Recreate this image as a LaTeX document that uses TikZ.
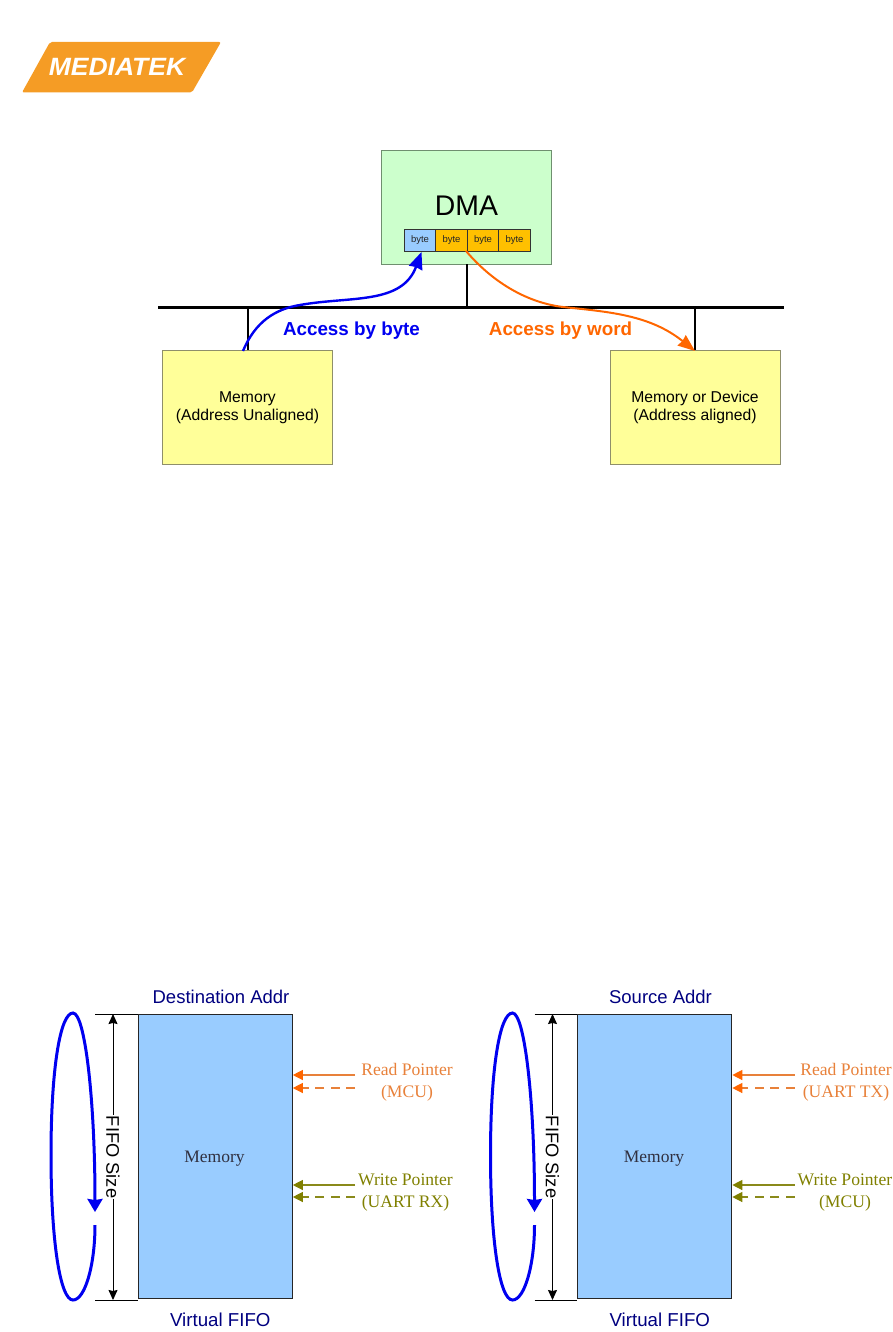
\documentclass[tikz,border=0pt]{standalone}
\usepackage{fontspec}
\setmainfont{Liberation Sans}
\newfontfamily\serifface{Liberation Serif}
\usetikzlibrary{arrows.meta,calc}
\definecolor{dmagreen}{HTML}{CCFFCC}
\definecolor{dmaedge}{HTML}{6F8F6F}
\definecolor{memyellow}{HTML}{FFFF99}
\definecolor{memedge}{HTML}{8F8F6A}
\definecolor{cellblue}{HTML}{99CCFF}
\definecolor{cellgold}{HTML}{FFC000}
\definecolor{accessblue}{HTML}{0000F0}
\definecolor{accessorange}{HTML}{FF6600}
\definecolor{logoorange}{HTML}{F59C25}
\definecolor{navylabel}{HTML}{000080}
\definecolor{readlabel}{HTML}{E8813A}
\definecolor{writelabel}{HTML}{808000}
\definecolor{writeline}{HTML}{8A8A1A}
\definecolor{memtext}{HTML}{303040}
\tikzset{
  plainbox/.style={draw=#1,line width=0.9pt,inner sep=0pt,align=center},
  cellbox/.style={draw=black!80,line width=1pt,inner sep=0pt,minimum width=31.5pt,minimum height=22pt,font=\fontsize{9.5}{11}\selectfont,text=black!85},
  buswire/.style={line width=2pt,draw=black},
  curvewire/.style={line width=2pt},
  sans/.style={font=\fontsize{#1}{#1}\selectfont},
  serifl/.style={font=\serifface\fontsize{17.6}{22}\selectfont,align=center,inner sep=0pt},
  ptr/.style={line width=1.2pt},
  ptrdash/.style={ptr,dash pattern=on 9pt off 6.5pt},
}
\newcommand{\fifopanel}[7]{%
  \begin{scope}[xshift=#2]
    \node[draw=black!85,line width=1pt,fill=cellblue,minimum width=154pt,minimum height=284.5pt,inner sep=0pt] (#1mem) at (215.3,1156.5) {};
    \node[inner sep=0pt,text=memtext,font=\serifface\fontsize{17.5}{20}\selectfont] (#1memtext) at (214.5,1158.5) {Memory};
    \coordinate (#1topL) at (95,1014);
    \coordinate (#1botL) at (95,1300);
    \coordinate (#1dimT) at (113,1014);
    \coordinate (#1dimB) at (113,1300);
    \draw[line width=1pt] (#1topL) -- (#1topL -| #1mem.west);
    \draw[line width=1pt] (#1botL) -- (#1botL -| #1mem.west);
    \draw[line width=1pt,{Stealth[length=10pt,width=9pt,inset=1pt]}-{Stealth[length=10pt,width=9pt,inset=1pt]}] (#1dimT) -- (#1dimB);
    \node[fill=white,rotate=-90,inner sep=1pt,sans=18.3] (#1size) at (113,1157) {FIFO Size};
    \coordinate (#1loopS) at (95,1225);
    \coordinate (#1loopE) at (95,1212);
    \draw[accessblue,line width=3pt,-{Stealth[length=13pt,width=15pt,inset=1pt]}] (#1loopS)
      .. controls (95,1265) and (85,1300) .. (73,1300)
      .. controls (60,1300) and (51,1240) .. (51,1155)
      .. controls (51,1070) and (60,1013) .. (73,1013)
      .. controls (85,1013) and (95,1100) .. (#1loopE);
    \node[text=navylabel,inner sep=0pt,sans=18.5] (#1head) at (221,997) {#3};
    \node[text=navylabel,inner sep=0pt,sans=18.7] (#1foot) at (220.3,1320) {Virtual FIFO};
    \node[serifl,text=readlabel] (#1read) at (#4,1082.5) {Read Pointer\\#5};
    \node[serifl,text=writelabel] (#1write) at (#6,1192.5) {Write Pointer\\#7};
    \coordinate (#1ra) at (355,1075);
    \coordinate (#1rb) at (355,1088);
    \coordinate (#1wa) at (355,1185);
    \coordinate (#1wb) at (355,1197);
    \draw[ptr,draw=readlabel,-{Triangle[length=10pt,width=10pt,fill=accessorange,color=accessorange]}] (#1ra) -- (#1ra -| #1mem.east);
    \draw[ptrdash,draw=readlabel,-{Triangle[length=10pt,width=10pt,fill=accessorange,color=accessorange]}] (#1rb) -- (#1rb -| #1mem.east);
    \draw[ptr,draw=writeline,-{Triangle[length=10pt,width=10pt,fill=writelabel,color=writelabel]}] (#1wa) -- (#1wa -| #1mem.east);
    \draw[ptrdash,draw=writeline,-{Triangle[length=10pt,width=10pt,fill=writelabel,color=writelabel]}] (#1wb) -- (#1wb -| #1mem.east);
  \end{scope}%
}
\begin{document}
\begin{tikzpicture}[x=1pt,y=-1pt]
\useasboundingbox (0,0) rectangle (893,1332);
% logo
\fill[logoorange,rounded corners=2pt] (50,42) -- (221,42) -- (192,92.5) -- (22,92.5) -- cycle;
\node[text=white,inner sep=0pt,xscale=1.06,font=\bfseries\itshape\fontsize{25}{25}\selectfont] (logo) at (117,67) {MEDIATEK};
% top diagram
\node[plainbox=dmaedge,fill=dmagreen,minimum width=170pt,minimum height=114pt] (dma) at (466.5,207) {};
\node[inner sep=0pt,sans=28.4] (dmatext) at (466.5,206) {DMA};
\node[cellbox,fill=cellblue] (b1) at (420,240.3) {byte};
\node[cellbox,fill=cellgold] (b2) at (451.5,240.3) {byte};
\node[cellbox,fill=cellgold] (b3) at (483,240.3) {byte};
\node[cellbox,fill=cellgold] (b4) at (514.5,240.3) {byte};
\node[plainbox=memedge,fill=memyellow,minimum width=170pt,minimum height=114pt] (m1) at (247.5,407) {};
\node[inner sep=0pt,align=center,font=\fontsize{15.7}{18.5}\selectfont] (m1text) at (247.5,407.5) {Memory\\(Address Unaligned)};
\node[plainbox=memedge,fill=memyellow,minimum width=170pt,minimum height=114pt] (m2) at (695,407) {};
\node[inner sep=0pt,align=center,font=\fontsize{15.7}{18.5}\selectfont] (m2text) at (695,407.5) {Memory or Device\\(Address aligned)};
\coordinate (busL) at (158,307.5);
\coordinate (busR) at (784,307.5);
\draw[buswire,line width=2.4pt] (busL) -- (busR);
\draw[buswire] (dma.south) -- (dma.south |- busL);
\draw[buswire] (m1.north) -- (m1.north |- busL);
\draw[buswire] (m2.north) -- (m2.north |- busL);
\coordinate (blueS) at (243,351);
\coordinate (blueE) at (421.5,252);
\draw[curvewire,accessblue,line width=2.4pt,-{Stealth[length=17pt,width=14pt,inset=1pt]}] (blueS)
  .. controls (255,322) and (275,309) .. (300,305)
  .. controls (350,296) and (402,305) .. (blueE);
\coordinate (orS) at (466,251);
\coordinate (orE) at (695,351);
\draw[curvewire,accessorange,-{Stealth[length=17pt,width=13pt,inset=1pt]}] (orS)
  .. controls (495,285) and (530,303) .. (563,307)
  .. controls (610,312) and (650,315) .. (orE);
\node[text=accessblue,inner sep=0pt,font=\bfseries\fontsize{18.8}{18}\selectfont] (lbyte) at (351.5,331) {Access by byte};
\node[text=accessorange,inner sep=0pt,font=\bfseries\fontsize{18.8}{18}\selectfont] (lword) at (560.5,331) {Access by word};
% FIFO panels
\fifopanel{a}{0pt}{Destination Addr}{407}{(MCU)}{405.5}{(UART RX)}
\fifopanel{c}{439.5pt}{Source Addr}{406.5}{(UART TX)}{405.5}{(MCU)}
\end{tikzpicture}
\end{document}
